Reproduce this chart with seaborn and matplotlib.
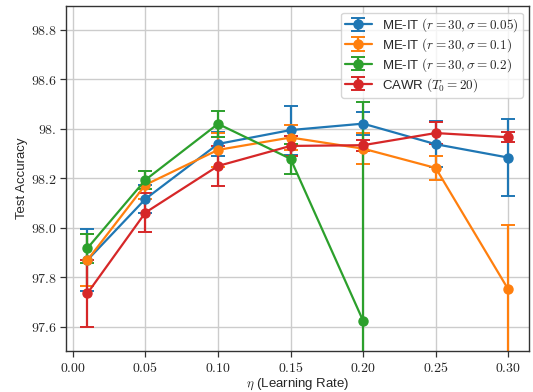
import matplotlib
matplotlib.use("Agg")
import matplotlib.pyplot as plt
import seaborn as sns
import numpy as np

lr = [0.01, 0.05, 0.10, 0.15, 0.20, 0.25, 0.30]

blue_mean = [97.87, 98.117, 98.339, 98.395, 98.421, 98.338, 98.284]
blue_err = [0.124, 0.057, 0.05, 0.099, 0.047, 0.093, 0.154]

orange_mean = [97.87, 98.174, 98.315, 98.365, 98.32, 98.242, 97.752]
orange_err = [0.104, 0.057, 0.068, 0.052, 0.062, 0.05, 0.26]

green_lr = [0.01, 0.05, 0.10, 0.15, 0.20]
green_mean = [97.918, 98.194, 98.42, 98.279, 97.625]
green_err = [0.058, 0.037, 0.053, 0.061, 0.885]

red_mean = [97.736, 98.062, 98.25, 98.331, 98.334, 98.383, 98.366]
red_err = [0.135, 0.079, 0.081, 0.04, 0.022, 0.045, 0.02]

labels = [r"ME-IT $(r=30, \sigma=0.05)$",
          r"ME-IT $(r=30, \sigma=0.1)$",
          r"ME-IT $(r=30, \sigma=0.2)$",
          r"CAWR $(T_0=20)$"]

ytick_vals = [97.6, 97.8, 98.0, 98.2, 98.4, 98.6, 98.8]
ytick_text = ["97.6", "97.8", "98.0", "98.2", "98.", "98.6", "98.8"]
xtick_vals = [0.00, 0.05, 0.10, 0.15, 0.20, 0.25, 0.30]
xtick_text = ["0.00", "0.05", "0.10", "0.15", "0.20", "0.25", "0.30"]

sns.set_style("whitegrid")
plt.rcParams["font.family"] = ["Liberation Sans", "DejaVu Sans"]
plt.rcParams["mathtext.fontset"] = "cm"

colors = sns.color_palette("tab10")

fig = plt.figure(figsize=(5.33, 3.92), dpi=100)
ax = fig.add_axes([0.1245, 0.1046, 0.8685, 0.8801])

series = [(lr, blue_mean, blue_err), (lr, orange_mean, orange_err),
          (green_lr, green_mean, green_err), (lr, red_mean, red_err)]
for (xs, m, e), c, lab in zip(series, colors[:4], labels):
    ax.errorbar(xs, m, yerr=e, color=c, marker="o", markersize=6.5,
                linewidth=1.6, elinewidth=1.6, capsize=5, capthick=1.4,
                label=lab)

ax.set_ylim(97.503, 98.896)
ax.set_xlim(-0.0045, 0.3145)
ax.set_yticks(ytick_vals)
ax.set_yticklabels(["$" + t + "$" for t in ytick_text], fontsize=10)
ax.set_xticks(xtick_vals)
ax.set_xticklabels(["$" + t + "$" for t in xtick_text], fontsize=10)
ax.set_xlabel(r"$\eta$ (Learning Rate)", fontsize=9.5, labelpad=1.5)
ax.set_ylabel("Test Accuracy", fontsize=9.5, labelpad=2.0)

ax.grid(True, color="#cccccc", linewidth=1.0)
for s in ax.spines.values():
    s.set_color("#333333")
    s.set_linewidth(1.0)
ax.tick_params(axis="both", which="major", length=4, width=0.9,
               color="#333333", left=True, bottom=True, pad=3)

leg = ax.legend(loc="upper right", fontsize=9.5, frameon=True,
                framealpha=0.8, borderpad=0.3, labelspacing=0.15,
                handlelength=2.0)
leg.get_frame().set_edgecolor("#cccccc")

fig.savefig("out.png", dpi=100)
